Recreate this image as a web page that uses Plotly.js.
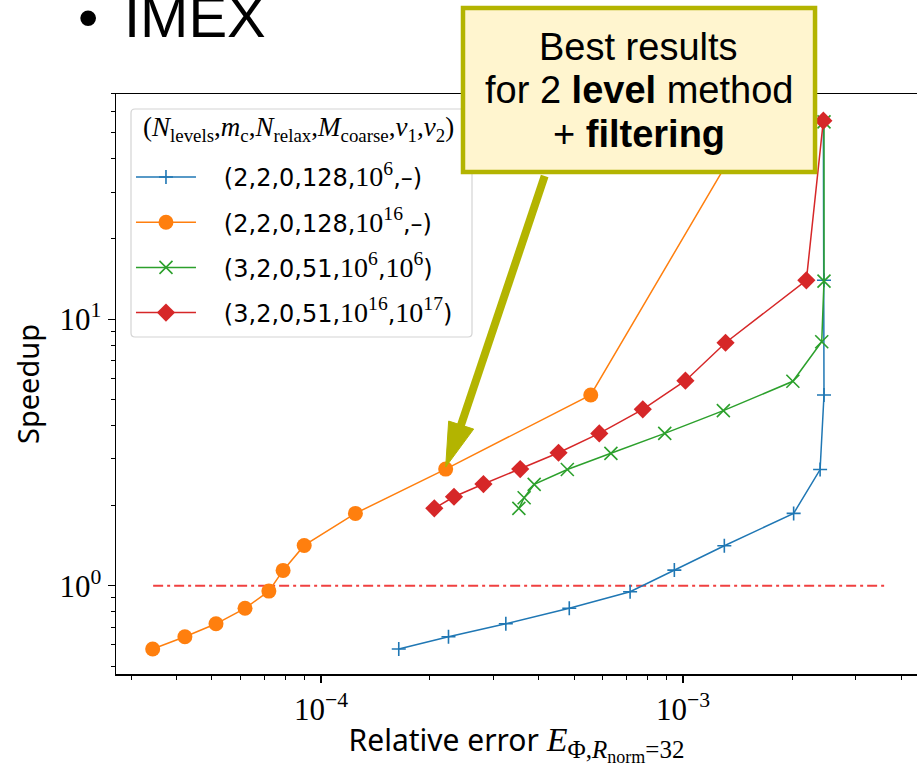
<!DOCTYPE html>
<html>
<head>
<meta charset="utf-8">
<script src="https://cdn.plot.ly/plotly-3.0.1.min.js"></script>
<style>html,body{margin:0;padding:0;background:#fff;overflow:hidden}</style>
</head>
<body>
<div id="chart" style="width:917px;height:767px"></div>
<script>
// ---- data ----
function pw(e) { return "<span style='font-family:Liberation Serif;font-size:28px'>10<sup>" + e + "</sup></span>"; }
var seriesNames = [
  "\u00a0\u00a0\u00a0(2,2,0,128," + pw("6") + ",–)",
  "\u00a0\u00a0\u00a0(2,2,0,128," + pw("16") + ",–)",
  "\u00a0\u00a0\u00a0(3,2,0,51," + pw("6") + "," + pw("6") + ")",
  "\u00a0\u00a0\u00a0(3,2,0,51," + pw("16") + "," + pw("17") + ")"
];
var legendTitle = "(<i>N</i><sub>levels</sub>,<i>m</i><sub>c</sub>,<i>N</i><sub>relax</sub>,<i>M</i><sub>coarse</sub>,<i>ν</i><sub>1</sub>,<i>ν</i><sub>2</sub>)";
var blueX = [1.64e-4, 2.25e-4, 3.24e-4, 4.85e-4, 7.14e-4, 9.46e-4, 1.30e-3, 2.02e-3, 2.39e-3, 2.45e-3, 2.45e-3, 2.44e-3];
var blueY = [0.579, 0.644, 0.720, 0.823, 0.950, 1.145, 1.413, 1.869, 2.73, 5.20, 14.0, 55.6];
var orangeX = [3.43e-5, 4.21e-5, 5.13e-5, 6.17e-5, 7.18e-5, 7.86e-5, 8.99e-5, 1.245e-4, 2.21e-4, 5.56e-4, 1.55e-3];
var orangeY = [0.579, 0.644, 0.720, 0.823, 0.955, 1.142, 1.417, 1.869, 2.74, 5.20, 55.6];
var greenX = [3.52e-4, 3.64e-4, 3.88e-4, 4.79e-4, 6.32e-4, 8.90e-4, 1.292e-3, 2.01e-3, 2.415e-3, 2.45e-3, 2.45e-3];
var greenY = [1.952, 2.14, 2.40, 2.73, 3.14, 3.73, 4.54, 5.85, 8.23, 13.9, 55.0];
var redX = [2.056e-4, 2.33e-4, 2.81e-4, 3.55e-4, 4.53e-4, 5.87e-4, 7.74e-4, 1.015e-3, 1.31e-3, 2.19e-3, 2.44e-3];
var redY = [1.952, 2.158, 2.408, 2.74, 3.155, 3.73, 4.59, 5.88, 8.16, 14.0, 55.6];
var refX = [3.44e-5, 3.68e-3];
var refY = [1, 1];
var xTickVals = [1e-4, 1e-3];
var xTickText = ["10<sup>−4</sup>", "10<sup>−3</sup>"];
var yTickVals = [1, 10];
var yTickText = ["10<sup>0</sup>", "10<sup>1</sup>"];
var bestPoint = {x: 2.21e-4, y: 2.74};

// minor tick positions (2..9 per decade)
function minorVals(e0, e1) {
  var v = [];
  for (var e = e0; e <= e1; e++) for (var k = 2; k <= 9; k++) v.push(k * Math.pow(10, e));
  return v;
}

// rounded frame for the legend, in paper fractions
function roundedRect(x0, x1, yb, yt, rx, ry) {
  return 'M' + (x0 + rx) + ',' + yt + ' L' + (x1 - rx) + ',' + yt +
    ' Q' + x1 + ',' + yt + ' ' + x1 + ',' + (yt - ry) +
    ' L' + x1 + ',' + (yb + ry) + ' Q' + x1 + ',' + yb + ' ' + (x1 - rx) + ',' + yb +
    ' L' + (x0 + rx) + ',' + yb + ' Q' + x0 + ',' + yb + ' ' + x0 + ',' + (yb + ry) +
    ' L' + x0 + ',' + (yt - ry) + ' Q' + x0 + ',' + yt + ' ' + (x0 + rx) + ',' + yt + ' Z';
}

var lw = 1.5;
var traces = [
  {x: refX, y: refY, mode: 'lines', showlegend: false, hoverinfo: 'skip',
   line: {color: '#f04040', width: 2, dash: '10px,4px,3px,4px'}},
  {x: blueX, y: blueY, name: seriesNames[0], mode: 'lines+markers', legendgroup: 'a',
   line: {color: '#1f77b4', width: lw},
   marker: {symbol: 'cross-thin', size: 10, color: '#1f77b4', line: {color: '#1f77b4', width: 1.6}}},
  {x: orangeX, y: orangeY, name: seriesNames[1], mode: 'lines+markers', legendgroup: 'b',
   line: {color: '#ff7f0e', width: lw},
   marker: {symbol: 'circle', size: 15, color: '#ff7f0e'}},
  {x: greenX, y: greenY, name: seriesNames[2], mode: 'lines+markers', legendgroup: 'c',
   line: {color: '#2ca02c', width: lw},
   marker: {symbol: 'x-thin', size: 13, color: '#2ca02c', line: {color: '#2ca02c', width: 1.6}}},
  {x: redX, y: redY, name: seriesNames[3], mode: 'lines+markers', legendgroup: 'd',
   line: {color: '#d62728', width: lw},
   marker: {symbol: 'diamond', size: 14, color: '#d62728'}}
];

var serif = 'Liberation Serif, DejaVu Serif, serif';
var sans = 'Noto Sans, DejaVu Sans, sans-serif';
var olive = '#b3b400';

var layout = {
  width: 917, height: 767,
  margin: {l: 116, r: 0, t: 94, b: 93, pad: 0},
  paper_bgcolor: '#ffffff', plot_bgcolor: '#ffffff',
  font: {family: 'DejaVu Sans, sans-serif', color: '#000', size: 24},
  showlegend: true,
  legend: {
    x: 0.0187, y: 0.895, xanchor: 'left', yanchor: 'top',
    bgcolor: 'rgba(0,0,0,0)', borderwidth: 0,
    font: {family: 'DejaVu Sans, sans-serif', size: 24, color: '#000'},
    traceorder: 'grouped', tracegroupgap: 11, itemwidth: 60
  },
  xaxis: {
    type: 'log', range: [-4.566, -2.354],
    showgrid: false, zeroline: false,
    showline: true, linecolor: '#000', linewidth: 1.5, mirror: true,
    ticks: 'outside', ticklen: 7, tickwidth: 1.3, tickcolor: '#000',
    tickmode: 'array', tickvals: xTickVals, ticktext: xTickText,
    tickfont: {family: serif, size: 31, color: '#000'},
    minor: {ticks: 'outside', ticklen: 4, tickwidth: 1, tickcolor: '#000', tickmode: 'array', tickvals: minorVals(-5, -3), showgrid: false},
    title: {text: "Relative error <span style='font-family:Liberation Serif;font-size:34px'><i>E</i><sub><span style='font-size:25px'>Φ,<i>R</i></span><sub><span style='font-size:18px'>norm</span></sub><span style='font-size:25px'>=32</span></sub></span>",
            font: {family: sans, size: 30, color: '#000'}, standoff: 10}
  },
  yaxis: {
    type: 'log', range: [-0.331, 1.845],
    showgrid: false, zeroline: false,
    showline: true, linecolor: '#000', linewidth: 1.5, mirror: true,
    ticks: 'outside', ticklen: 7, tickwidth: 1.3, tickcolor: '#000',
    tickmode: 'array', tickvals: yTickVals, ticktext: yTickText,
    tickfont: {family: serif, size: 31, color: '#000'},
    minor: {ticks: 'outside', ticklen: 4, tickwidth: 1, tickcolor: '#000', tickmode: 'array', tickvals: minorVals(-1, 1), showgrid: false},
    title: {text: 'Speedup', font: {family: sans, size: 29, color: '#000'}, standoff: 11}
  },
  shapes: [
    // legend frame
    {type: 'path', xref: 'paper', yref: 'paper', layer: 'below',
     path: roundedRect(0.01873, 0.44444, 0.58103, 0.97414, 0.005, 0.0069),
     fillcolor: 'rgba(255,255,255,0.85)', line: {color: '#d4d4d4', width: 1.2}},
    // arrow shaft (pixel offsets from the highlighted point)
    {type: 'path', xref: 'x', yref: 'y', xsizemode: 'pixel', ysizemode: 'pixel',
     xanchor: bestPoint.x, yanchor: bestPoint.y,
     path: 'M14,40 L99,293', line: {color: olive, width: 8}, layer: 'above'},
    // arrow head
    {type: 'path', xref: 'x', yref: 'y', xsizemode: 'pixel', ysizemode: 'pixel',
     xanchor: bestPoint.x, yanchor: bestPoint.y,
     path: 'M0,2 L28,40 L3,48 Z', fillcolor: olive, line: {color: olive, width: 1}, layer: 'above'},
    // callout box
    {type: 'rect', xref: 'paper', yref: 'paper', x0: 0.4332, x1: 0.8727, y0: 0.8655, y1: 1.1483,
     fillcolor: '#fff5cf', line: {color: olive, width: 4.5}, layer: 'above'}
  ],
  annotations: [
    // legend title
    {xref: 'paper', yref: 'paper', x: 0.031, y: 0.9397, xanchor: 'left', yanchor: 'middle', showarrow: false,
     text: legendTitle, font: {family: serif, size: 27, color: '#000'}},
    {xref: 'paper', yref: 'paper', x: 0.6529, y: 1.0810, xanchor: 'center', yanchor: 'middle', showarrow: false,
     text: 'Best results', font: {family: 'Liberation Sans, Arial, sans-serif', size: 38, color: '#000'}},
    {xref: 'paper', yref: 'paper', x: 0.6529, y: 1.0069, xanchor: 'center', yanchor: 'middle', showarrow: false,
     text: 'for 2 <b>level</b> method', font: {family: 'Liberation Sans, Arial, sans-serif', size: 38, color: '#000'}},
    {xref: 'paper', yref: 'paper', x: 0.6529, y: 0.9310, xanchor: 'center', yanchor: 'middle', showarrow: false,
     text: '+ <b>filtering</b>', font: {family: 'Liberation Sans, Arial, sans-serif', size: 38, color: '#000'}},
    {xref: 'paper', yref: 'paper', x: -0.035, y: 1.134, xanchor: 'center', yanchor: 'middle', showarrow: false,
     text: '•', font: {family: 'Liberation Sans, Arial, sans-serif', size: 58, color: '#000'}},
    {xref: 'paper', yref: 'paper', x: 0.0075, y: 1.134, xanchor: 'left', yanchor: 'middle', showarrow: false,
     text: 'IMEX', font: {family: 'Liberation Sans, Arial, sans-serif', size: 58, color: '#000'}}
  ]
};

Plotly.newPlot('chart', traces, layout, {displayModeBar: false, staticPlot: true});
</script>
</body>
</html>
